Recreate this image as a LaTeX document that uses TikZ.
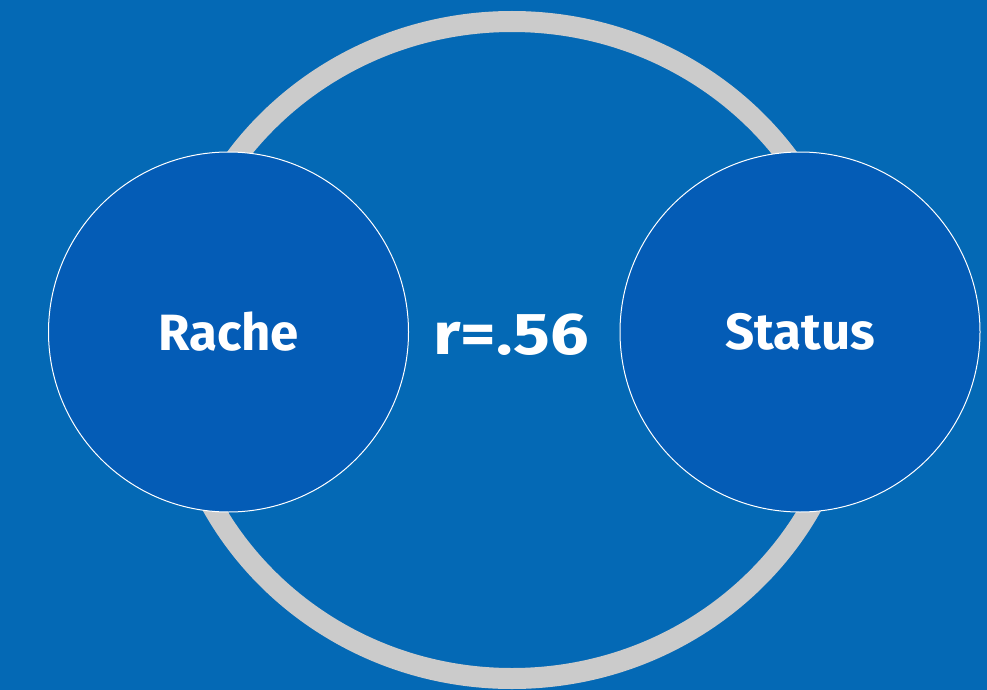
\documentclass[tikz,border=0pt]{standalone}
\usepackage{fontspec}
\setmainfont{Fira Sans}
\definecolor{bgblue}{HTML}{0469B5}
\definecolor{circblue}{HTML}{045CB6}
\definecolor{ringgrey}{HTML}{CBCBCB}
\tikzset{
  ring/.style={draw=ringgrey, line width=21pt},
  bubble/.style={circle, fill=circblue, draw=white, line width=1pt, minimum size=360pt, inner sep=0pt, text=white, font=\bfseries\fontsize{51}{51}\selectfont},
  coef/.style={text=white, font=\bfseries\fontsize{59}{59}\selectfont, inner sep=0pt}
}
\begin{document}
\begin{tikzpicture}[x=1pt,y=-1pt]
\fill[bgblue] (0,0) rectangle (987,690);
\useasboundingbox (0,0) rectangle (987,690);
\draw[ring] (512,350) ellipse [x radius=340.5, y radius=328.5];
\node[bubble] (rache) at (228.5,332) {Rache};
\node[bubble] (status) at (800,332) {Status\hspace{3pt}};
\node[coef] (r) at (511,335) {\scalebox{1.16}[1]{r=.56}};
\end{tikzpicture}
\end{document}
